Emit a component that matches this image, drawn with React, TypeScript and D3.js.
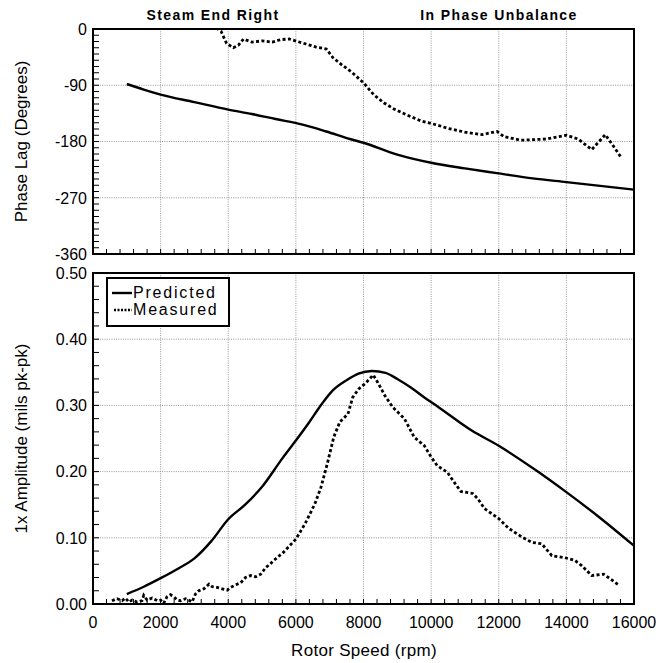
import React from 'react';
import * as d3 from 'd3';

// rotor speed axis
const speedTicks = [0, 2000, 4000, 6000, 8000, 10000, 12000, 14000, 16000];
const phaseTicks = [0, -90, -180, -270, -360];
const ampTicks = [0, 0.1, 0.2, 0.3, 0.4, 0.5];

// phase lag, predicted
const predPhaseRpm = [1000, 1500, 2000, 3000, 4000, 4700, 5400, 6200, 6900, 7600, 8000, 9000, 10000, 11000, 12000, 13000, 14000, 15000, 16000];
const predPhase = [-88, -97, -105, -117, -129, -136, -144, -153, -164, -176, -182, -201, -214, -223, -231, -239, -245, -251, -257];

// phase lag, measured
const measPhaseRpm = [3650, 3790, 3950, 4150, 4300, 4450, 4700, 5000, 5300, 5550, 5800, 6050, 6300, 6600, 6900, 7100, 7350, 7650, 8000, 8300, 8600, 8900, 9300, 9700, 10200, 10500, 11000, 11500, 11950, 12150, 12650, 13400, 14000, 14350, 14750, 15150, 15400, 15600];
const measPhase = [2, -4, -23, -30, -26, -16, -21, -19, -21, -17, -16, -20, -24, -29, -32, -46, -57, -69, -86, -105, -118, -128, -138, -147, -154, -159, -165, -169, -164, -172, -178, -176, -170, -176, -193, -169, -188, -204];

// 1x amplitude, predicted
const predAmpRpm = [1000, 1500, 2000, 2500, 3000, 3500, 4000, 4500, 5000, 5600, 6000, 6400, 6750, 7100, 7500, 7850, 8250, 8650, 9000, 9400, 9800, 10200, 11200, 12000, 13100, 14000, 15000, 16000];
const predAmp = [0.015, 0.026, 0.039, 0.053, 0.069, 0.095, 0.128, 0.150, 0.177, 0.220, 0.247, 0.275, 0.301, 0.323, 0.338, 0.348, 0.352, 0.349, 0.340, 0.327, 0.312, 0.298, 0.262, 0.239, 0.202, 0.169, 0.130, 0.088];

// 1x amplitude, measured
const measAmpRpm = [560, 710, 860, 960, 1060, 1160, 1300, 1450, 1500, 1600, 1750, 1900, 2000, 2090, 2190, 2290, 2390, 2490, 2590, 2740, 2830, 2930, 3030, 3130, 3280, 3430, 3530, 3670, 3820, 3970, 4070, 4220, 4370, 4510, 4660, 4810, 4960, 5110, 5250, 5350, 5630, 6000, 6270, 6560, 6740, 6930, 7120, 7300, 7540, 7680, 7860, 8050, 8290, 8440, 8630, 8870, 9210, 9500, 9800, 10000, 10180, 10480, 10680, 10880, 11230, 11380, 11580, 12000, 12300, 12690, 12980, 13270, 13570, 13950, 14250, 14450, 14750, 15100, 15300, 15560];
const measAmp = [0.005, 0.008, 0.005, 0.009, 0.003, 0.006, 0.003, 0.005, 0.013, 0.006, 0.009, 0.005, 0.006, 0.001, 0.011, 0.014, 0.011, 0.006, 0.005, 0.008, 0.006, 0.003, 0.015, 0.020, 0.023, 0.030, 0.026, 0.025, 0.023, 0.021, 0.025, 0.029, 0.032, 0.040, 0.043, 0.041, 0.045, 0.055, 0.061, 0.066, 0.078, 0.098, 0.121, 0.151, 0.176, 0.212, 0.252, 0.275, 0.287, 0.312, 0.325, 0.333, 0.346, 0.333, 0.315, 0.297, 0.280, 0.252, 0.239, 0.222, 0.209, 0.199, 0.184, 0.170, 0.167, 0.159, 0.144, 0.129, 0.114, 0.101, 0.093, 0.091, 0.073, 0.070, 0.066, 0.058, 0.043, 0.045, 0.038, 0.028];

const legendNames = ['Predicted', 'Measured'];

const W = 669;
const H = 663;
const left = 93;
const right = 634;
const phaseTop = 29;
const phaseBottom = 254;
const ampTop = 273;
const ampBottom = 604;
const font = '"Liberation Sans", Arial, sans-serif';
const dotted = '3 2.4';

const x = d3.scaleLinear().domain([0, 16000]).range([left, right]);
const yPhase = d3.scaleLinear().domain([-360, 0]).range([phaseBottom, phaseTop]);
const yAmp = d3.scaleLinear().domain([0, 0.5]).range([ampBottom, ampTop]);

const zip = (xs: number[], ys: number[]) => xs.map((v, i) => [v, ys[i]] as [number, number]);

function Panel({ y, top, bottom, yTicks, minorY, clip }: any) {
  const minorX = d3.range(0, 16001, 400);
  return (
    <g>
      <clipPath id={clip}>
        <rect x={left} y={top} width={right - left} height={bottom - top} />
      </clipPath>
      {speedTicks.slice(1, -1).map((t) => (
        <line key={'gx' + t} x1={x(t)} x2={x(t)} y1={top} y2={bottom} stroke="#8a8a8a" strokeWidth={0.9} strokeDasharray="1 1.3" />
      ))}
      {yTicks.slice(1, -1).map((t: number) => (
        <line key={'gy' + t} x1={left} x2={right} y1={y(t)} y2={y(t)} stroke="#8a8a8a" strokeWidth={0.9} strokeDasharray="1 1.3" />
      ))}
      {minorX.map((t) => (
        <line key={'mx' + t} x1={x(t)} x2={x(t)} y1={bottom} y2={bottom - 5} stroke="#000" strokeWidth={1} />
      ))}
      {minorY.map((t: number) => (
        <line key={'my' + t} x1={left} x2={left + 6} y1={y(t)} y2={y(t)} stroke="#000" strokeWidth={1} />
      ))}
      <rect x={left} y={top} width={right - left} height={bottom - top} fill="none" stroke="#000" strokeWidth={2} />
    </g>
  );
}

export default function App() {
  const phaseLine = d3.line<[number, number]>().x((d) => x(d[0])).y((d) => yPhase(d[1])).curve(d3.curveMonotoneX);
  const ampLine = d3.line<[number, number]>().x((d) => x(d[0])).y((d) => yAmp(d[1])).curve(d3.curveMonotoneX);
  const rawAmp = d3.line<[number, number]>().x((d) => x(d[0])).y((d) => yAmp(d[1]));
  const rawPhase = d3.line<[number, number]>().x((d) => x(d[0])).y((d) => yPhase(d[1]));

  return (
    <svg width={W} height={H} style={{ position: 'absolute', left: 0, top: 0, background: '#fff' }} fontFamily={font}>
      <rect width={W} height={H} fill="#fff" />

      <text x={213} y={20} textAnchor="middle" fontSize={14} fontWeight="bold" letterSpacing={1.4}>Steam End Right</text>
      <text x={499} y={20} textAnchor="middle" fontSize={14} fontWeight="bold" letterSpacing={1.4}>In Phase Unbalance</text>

      <Panel y={yPhase} top={phaseTop} bottom={phaseBottom} yTicks={phaseTicks} minorY={d3.range(-360, 1, 10)} clip="clipPhase" />
      <Panel y={yAmp} top={ampTop} bottom={ampBottom} yTicks={ampTicks} minorY={d3.range(0, 26).map((i) => i * 0.02)} clip="clipAmp" />

      <g clipPath="url(#clipPhase)" fill="none" stroke="#000">
        <path d={phaseLine(zip(predPhaseRpm, predPhase)) || ''} strokeWidth={2.4} />
        <path d={rawPhase(zip(measPhaseRpm, measPhase)) || ''} strokeWidth={2.8} strokeDasharray={dotted} />
      </g>
      <g clipPath="url(#clipAmp)" fill="none" stroke="#000">
        <path d={ampLine(zip(predAmpRpm, predAmp)) || ''} strokeWidth={2.4} />
        <path d={rawAmp(zip(measAmpRpm, measAmp)) || ''} strokeWidth={2.8} strokeDasharray={dotted} />
      </g>

      {phaseTicks.map((t) => (
        <text key={'pl' + t} x={87} y={yPhase(t)} dy="0.36em" textAnchor="end" fontSize={16}>{t}</text>
      ))}
      {ampTicks.map((t) => (
        <text key={'al' + t} x={87} y={yAmp(t)} dy="0.36em" textAnchor="end" fontSize={16}>{t.toFixed(2)}</text>
      ))}
      {speedTicks.map((t) => (
        <text key={'sl' + t} x={x(t)} y={628} textAnchor="middle" fontSize={16}>{t}</text>
      ))}

      <text x={364} y={656} textAnchor="middle" fontSize={17} letterSpacing={0.3}>Rotor Speed (rpm)</text>
      <text transform={`translate(27,${(phaseTop + phaseBottom) / 2}) rotate(-90)`} textAnchor="middle" fontSize={17}>Phase Lag (Degrees)</text>
      <text transform={`translate(27,${(ampTop + ampBottom) / 2}) rotate(-90)`} textAnchor="middle" fontSize={17}>1x Amplitude (mils pk-pk)</text>

      <g>
        <rect x={107} y={278} width={122} height={48} fill="#fff" stroke="#000" strokeWidth={2} />
        <line x1={112} x2={132} y1={293} y2={293} stroke="#000" strokeWidth={2.4} />
        <line x1={114} x2={132} y1={310} y2={310} stroke="#000" strokeWidth={2.4} strokeDasharray="2 1.5" />
        {legendNames.map((n, i) => (
          <text key={n} x={133} y={298 + i * 17} fontSize={16} letterSpacing={1.8}>{n}</text>
        ))}
      </g>
    </svg>
  );
}
